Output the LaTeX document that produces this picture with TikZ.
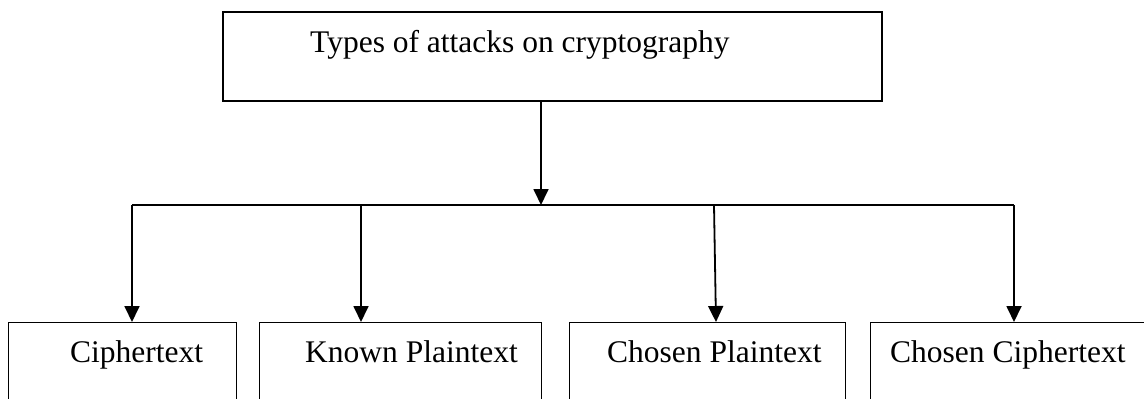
\documentclass[tikz,border=0pt]{standalone}
\usepackage{fontspec}
\setmainfont{Liberation Serif}
\usetikzlibrary{arrows.meta}
\begin{document}
\begin{tikzpicture}[x=1pt,y=1pt,
  headbox/.style={draw, line width=2pt, rectangle, inner sep=0pt, anchor=north west},
  leafbox/.style={draw, line width=1.3pt, rectangle, inner sep=0pt, anchor=north west, minimum height=110pt},
  lbl/.style={inner sep=0pt, anchor=base west, font=\fontsize{31.5}{38}\selectfont},
  link/.style={line width=1.6pt},
  arr/.style={line width=1.8pt, -{Triangle[width=15pt,length=16pt]}}]
  % page frame
  \clip (0,0) rectangle (1144,-399);
  \fill[white] (0,0) rectangle (1144,-399);

  % root box
  \node[headbox, minimum width=659pt, minimum height=89pt] (root) at (222,-11) {};
  \node[lbl] (rootlbl) at (310,-52) {Types of attacks on cryptography};

  % leaf boxes (open at the bottom edge)
  \node[leafbox, minimum width=228pt] (b1) at (8,-322) {};
  \node[leafbox, minimum width=282pt] (b2) at (259,-322) {};
  \node[leafbox, minimum width=276pt] (b3) at (569,-322) {};
  \node[leafbox, minimum width=300pt] (b4) at (870,-322) {};
  \node[lbl] (l1) at (70,-362) {Ciphertext};
  \node[lbl] (l2) at (305,-362) {Known Plaintext};
  \node[lbl] (l3) at (607,-362) {Chosen Plaintext};
  \node[lbl] (l4) at (890,-362) {Chosen Ciphertext};

  % branch points on the distribution bar
  \coordinate (hub) at (541,-205);
  \coordinate (h1) at (132,-205);
  \coordinate (h2) at (361,-205);
  \coordinate (h3) at (714,-205);
  \coordinate (h4) at (1014,-205);
  \coordinate (t3) at (716,-322);

  % connectors
  \draw[arr] (root.south -| hub) -- (hub);
  \draw[link] (h1) -- (h4);
  \draw[arr] (h1) -- (h1 |- b1.north);
  \draw[arr] (h2) -- (h2 |- b2.north);
  \draw[arr] (h3) -- (t3);
  \draw[arr] (h4) -- (h4 |- b4.north);
\end{tikzpicture}
\end{document}
